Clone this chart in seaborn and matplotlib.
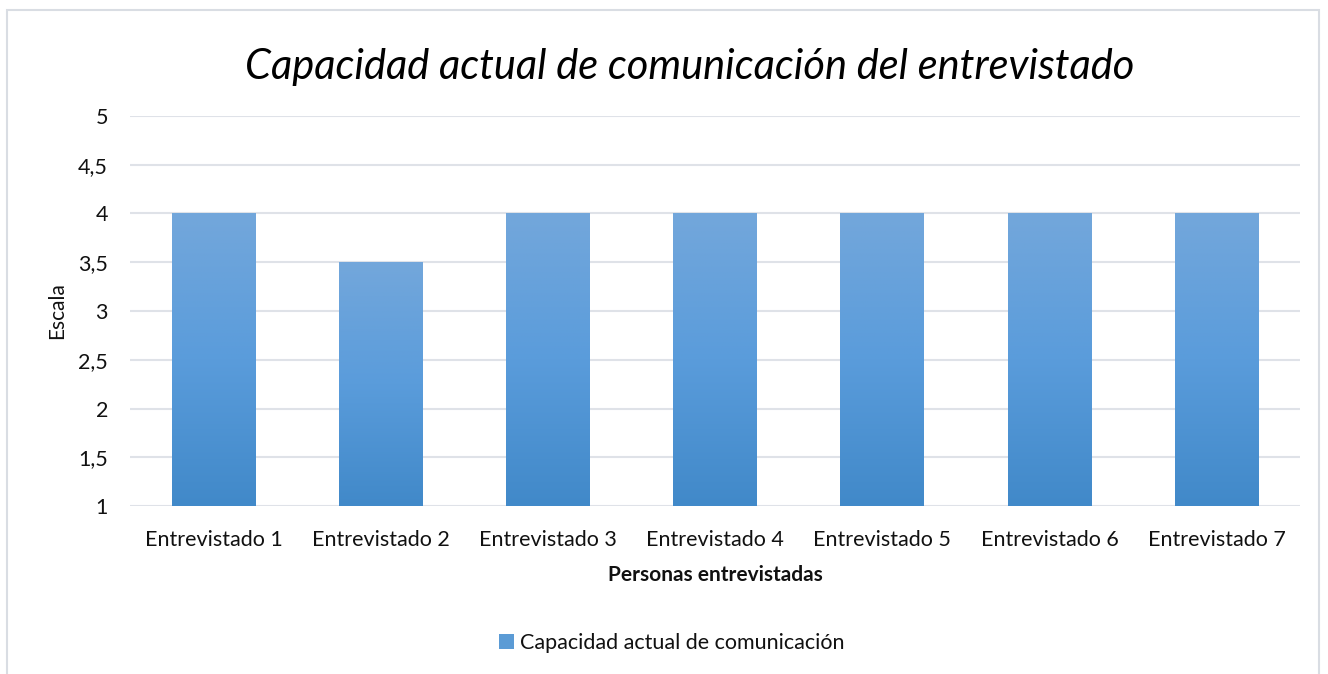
import matplotlib.pyplot as plt
from matplotlib.patches import Rectangle, Patch
from matplotlib.colors import LinearSegmentedColormap
import numpy as np
import pandas as pd
import seaborn as sns

entrevistados = ["Entrevistado 1", "Entrevistado 2", "Entrevistado 3", "Entrevistado 4",
                 "Entrevistado 5", "Entrevistado 6", "Entrevistado 7"]
capacidad = [4, 3.5, 4, 4, 4, 4, 4]
y_ticks = [1, 1.5, 2, 2.5, 3, 3.5, 4, 4.5, 5]
y_labels = ["1", "1,5", "2", "2,5", "3", "3,5", "4", "4,5", "5"]

sns.set_style("white")
plt.rcParams['font.family'] = ['Lato', 'DejaVu Sans']

df = pd.DataFrame({"Persona": entrevistados, "Capacidad": capacidad})

fig = plt.figure(figsize=(13.28, 6.74), dpi=100)
fig.patches.append(Rectangle((0.005, -0.01), 0.988, 0.995, transform=fig.transFigure,
                             fill=False, edgecolor="#d9dde3", linewidth=1.5))
ax = fig.add_axes([0.098, 0.249, 0.881, 0.579])

sns.barplot(data=df, x="Persona", y="Capacidad", color="#5b9bd5", width=0.5,
            ax=ax, zorder=3)

# gradient fill for every bar
grad = np.linspace(0, 1, 256).reshape(-1, 1)
cmap = LinearSegmentedColormap.from_list("g", ["#4189c9", "#5a9cdb", "#73a7db"])
for p in ax.patches:
    x0, w = p.get_x(), p.get_width()
    h = p.get_height()
    im = ax.imshow(grad, extent=[x0, x0 + w, 1, h], origin="lower", cmap=cmap,
                   aspect="auto", zorder=4)
    im.set_clip_path(p)
    p.set_alpha(0)
ax.set_xlim(-0.5, len(entrevistados) - 0.5)
ax.set_ylim(1, 5)

ax.set_yticks(y_ticks)
ax.set_yticklabels(y_labels)
ax.yaxis.grid(True, color="#dfe2e8", linewidth=1.5, zorder=0)
ax.set_axisbelow(True)
for s in ax.spines.values():
    s.set_visible(False)
ax.tick_params(axis="both", length=0, labelsize=15.5, colors="#111111")
ax.tick_params(axis="y", pad=16)
ax.tick_params(axis="x", pad=17)

ax.set_xlabel("Personas entrevistadas", fontsize=15, fontweight="bold", labelpad=11,
              color="#111111")
ax.set_ylabel("Escala", fontsize=15, labelpad=8, color="#111111")
fig.text(0.519, 0.9, "Capacidad actual de comunicación del entrevistado",
         ha="center", va="center", fontsize=30, style="italic", color="#000000")

handle = Patch(facecolor="#5b9bd5", edgecolor="none")
fig.legend([handle], ["Capacidad actual de comunicación"], loc="center",
           bbox_to_anchor=(0.506, 0.046), frameon=False, fontsize=15.5,
           handlelength=0.7, handleheight=0.7, handletextpad=0.3,
           labelcolor="#111111")

fig.savefig("out.png", dpi=100)
